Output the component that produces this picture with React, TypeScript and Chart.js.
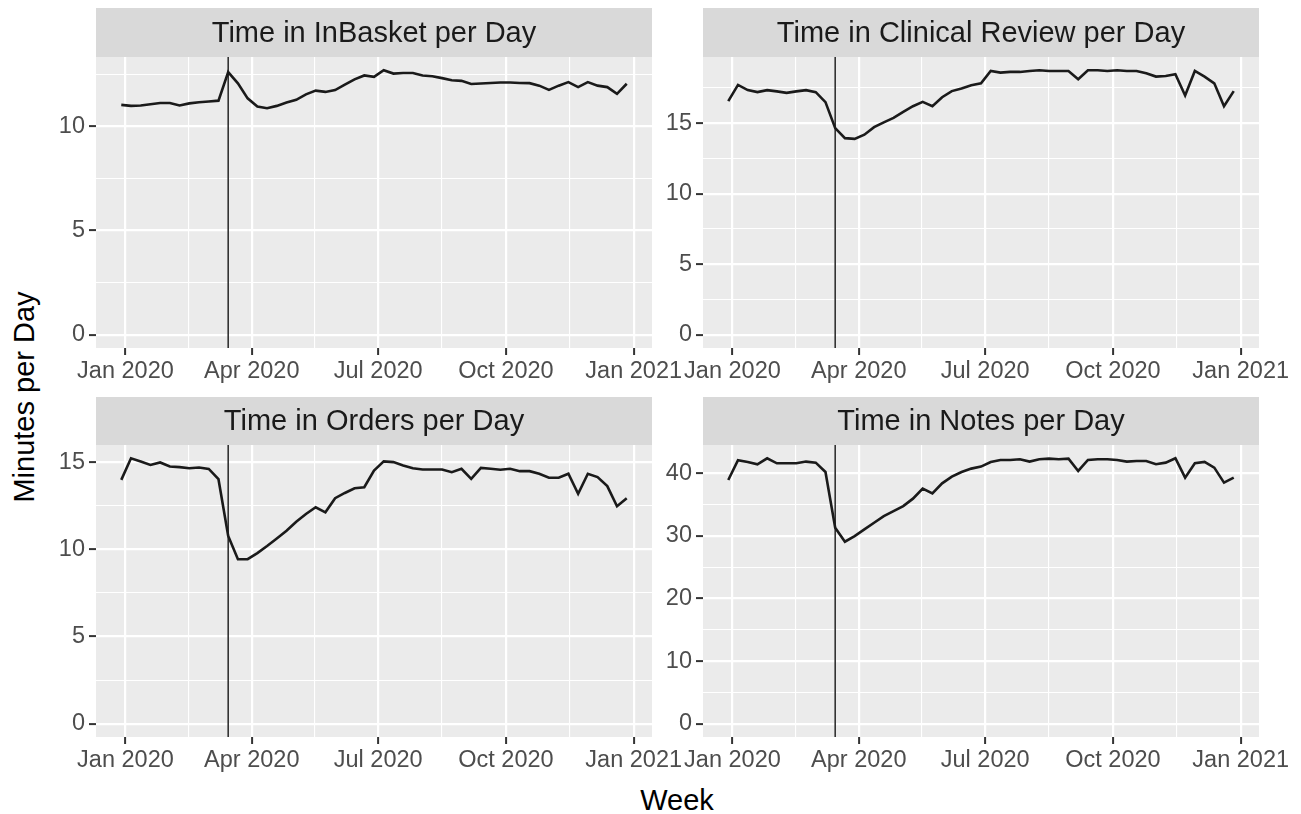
import React, { useEffect, useRef } from 'react';
import { Chart, registerables } from 'chart.js';

Chart.register(...registerables);

// ---------- data ----------
const weekDates: string[] = [
  '2019-12-29', '2020-01-05', '2020-01-12', '2020-01-19', '2020-01-26', '2020-02-02', '2020-02-09',
  '2020-02-16', '2020-02-23', '2020-03-01', '2020-03-08', '2020-03-15', '2020-03-22', '2020-03-29',
  '2020-04-05', '2020-04-12', '2020-04-19', '2020-04-26', '2020-05-03', '2020-05-10', '2020-05-17',
  '2020-05-24', '2020-05-31', '2020-06-07', '2020-06-14', '2020-06-21', '2020-06-28', '2020-07-05',
  '2020-07-12', '2020-07-19', '2020-07-26', '2020-08-02', '2020-08-09', '2020-08-16', '2020-08-23',
  '2020-08-30', '2020-09-06', '2020-09-13', '2020-09-20', '2020-09-27', '2020-10-04', '2020-10-11',
  '2020-10-18', '2020-10-25', '2020-11-01', '2020-11-08', '2020-11-15', '2020-11-22', '2020-11-29',
  '2020-12-06', '2020-12-13', '2020-12-20', '2020-12-27',
];

const inBasket: number[] = [
  11.03, 10.98, 11.0, 11.06, 11.12, 11.12, 11.0, 11.1, 11.15, 11.19, 11.23, 12.6, 12.06, 11.34,
  10.95, 10.87, 10.98, 11.14, 11.27, 11.53, 11.71, 11.65, 11.74, 12.0, 12.25, 12.44, 12.37, 12.69,
  12.53, 12.56, 12.56, 12.44, 12.4, 12.31, 12.21, 12.18, 12.03, 12.05, 12.08, 12.1, 12.1, 12.08,
  12.07, 11.95, 11.75, 11.95, 12.12, 11.88, 12.12, 11.95, 11.88, 11.56, 12.04,
];

const clinicalReview: number[] = [
  16.55, 17.7, 17.33, 17.19, 17.33, 17.24, 17.14, 17.24, 17.33, 17.19, 16.48, 14.64, 13.93, 13.88,
  14.17, 14.71, 15.05, 15.36, 15.79, 16.19, 16.5, 16.19, 16.83, 17.26, 17.45, 17.67, 17.81, 18.69,
  18.57, 18.62, 18.62, 18.69, 18.74, 18.69, 18.69, 18.69, 18.1, 18.74, 18.74, 18.69, 18.74, 18.69,
  18.69, 18.52, 18.29, 18.33, 18.45, 16.95, 18.69, 18.29, 17.81, 16.19, 17.26,
];

const orders: number[] = [
  13.99, 15.23, 15.04, 14.85, 14.99, 14.76, 14.72, 14.66, 14.7, 14.62, 14.03, 10.77, 9.44, 9.44,
  9.79, 10.2, 10.63, 11.07, 11.59, 12.03, 12.42, 12.13, 12.94, 13.24, 13.51, 13.57, 14.53, 15.05,
  15.01, 14.82, 14.66, 14.59, 14.59, 14.59, 14.43, 14.63, 14.05, 14.68, 14.63, 14.57, 14.63, 14.49,
  14.49, 14.34, 14.11, 14.11, 14.34, 13.19, 14.34, 14.15, 13.63, 12.48, 12.94,
];

const notes: number[] = [
  38.93, 42.08, 41.81, 41.44, 42.4, 41.6, 41.6, 41.6, 41.87, 41.7, 40.21, 31.3, 29.07, 29.97,
  31.04, 32.11, 33.17, 33.97, 34.77, 35.95, 37.55, 36.8, 38.4, 39.47, 40.21, 40.75, 41.07, 41.81,
  42.13, 42.13, 42.24, 41.87, 42.24, 42.35, 42.24, 42.35, 40.37, 42.13, 42.24, 42.24, 42.13, 41.87,
  41.97, 41.97, 41.44, 41.7, 42.4, 39.31, 41.6, 41.81, 40.9, 38.51, 39.31,
];

const panelTitles: string[] = [
  'Time in InBasket per Day',
  'Time in Clinical Review per Day',
  'Time in Orders per Day',
  'Time in Notes per Day',
];

const xTickDates: string[] = ['2020-01-01', '2020-04-01', '2020-07-01', '2020-10-01', '2021-01-01'];
const xTickLabels: string[] = ['Jan 2020', 'Apr 2020', 'Jul 2020', 'Oct 2020', 'Jan 2021'];
const yTickSteps: number[] = [5, 5, 5, 10];
const interventionDate = '2020-03-15';

const yAxisTitle = 'Minutes per Day';
const xAxisTitle = 'Week';

// ---------- helpers ----------
const FONT = "'Liberation Sans', Arial, Helvetica, sans-serif";
const DAY_MS = 86400000;
const EPOCH = Date.UTC(2020, 0, 1);
const toDay = (s: string): number => {
  const [y, m, d] = s.split('-').map(Number);
  return (Date.UTC(y, m - 1, d) - EPOCH) / DAY_MS;
};

const AXIS_W = 40;
const RIGHT_PAD = 40;
const XAXIS_H = 40;
const PLOT_W = 556;

const layouts = [
  { left: 96, top: 8, stripH: 49, plotH: 291 },
  { left: 703, top: 8, stripH: 49, plotH: 291 },
  { left: 96, top: 397, stripH: 48, plotH: 292 },
  { left: 703, top: 397, stripH: 48, plotH: 292 },
];

const seriesList = [inBasket, clinicalReview, orders, notes];

const decoPlugin = {
  id: 'panelDeco',
  beforeDraw(chart: any, _args: any, opts: any) {
    const { ctx, chartArea: a } = chart;
    ctx.save();
    ctx.fillStyle = '#EBEBEB';
    ctx.fillRect(a.left, a.top, a.right - a.left, a.bottom - a.top);
    ctx.fillStyle = '#D9D9D9';
    ctx.fillRect(a.left, a.top - opts.stripH, a.right - a.left, opts.stripH);
    ctx.fillStyle = '#1A1A1A';
    ctx.font = `29px ${FONT}`;
    ctx.textAlign = 'center';
    ctx.textBaseline = 'middle';
    ctx.fillText(opts.title, (a.left + a.right) / 2, a.top - opts.stripH / 2 + 1);
    ctx.restore();
  },
};

function Panel({ idx }: { idx: number }) {
  const ref = useRef<HTMLCanvasElement | null>(null);
  const lay = layouts[idx];
  const values = seriesList[idx];
  const step = yTickSteps[idx];
  const title = panelTitles[idx];
  const width = AXIS_W + PLOT_W + RIGHT_PAD;
  const height = lay.stripH + lay.plotH + XAXIS_H;

  useEffect(() => {
    if (!ref.current) return;
    const xs = weekDates.map(toDay);
    const x0 = Math.min(...xs);
    const x1 = Math.max(...xs);
    const xr = x1 - x0;
    const xMin = x0 - 0.05 * xr;
    const xMax = x1 + 0.05 * xr;

    const yLo = Math.min(0, ...values);
    const yHi = Math.max(...values);
    const yr = yHi - yLo;
    const yMin = yLo - 0.05 * yr;
    const yMax = yHi + 0.05 * yr;

    const majorX = xTickDates.map(toDay);
    const minorX = majorX.slice(0, -1).map((d, i) => (d + majorX[i + 1]) / 2);
    const majorY: number[] = [];
    for (let v = 0; v <= yMax; v += step) majorY.push(v);
    const minorY: number[] = [];
    for (let v = step / 2; v <= yMax; v += step) minorY.push(v);

    const isMajorX = (v: number) => majorX.some((m) => Math.abs(m - v) < 1e-6);
    const isMajorY = (v: number) => majorY.some((m) => Math.abs(m - v) < 1e-6);

    const vDay = toDay(interventionDate);

    const chart = new Chart(ref.current, {
      type: 'line',
      data: {
        datasets: [
          {
            data: xs.map((x, i) => ({ x, y: values[i] })),
            borderColor: '#1A1A1A',
            borderWidth: 2.6,
            pointRadius: 0,
            tension: 0,
            fill: false,
          },
          {
            data: [
              { x: vDay, y: yMin },
              { x: vDay, y: yMax },
            ],
            borderColor: '#333333',
            borderWidth: 1.6,
            pointRadius: 0,
            fill: false,
          },
        ],
      },
      options: {
        responsive: false,
        animation: false,
        events: [],
        layout: { padding: { top: lay.stripH, left: 0, right: RIGHT_PAD, bottom: 0 } },
        plugins: {
          legend: { display: false },
          tooltip: { enabled: false },
          title: { display: false },
          panelDeco: { title, stripH: lay.stripH },
        } as any,
        scales: {
          x: {
            type: 'linear',
            min: xMin,
            max: xMax,
            afterBuildTicks: (scale: any) => {
              scale.ticks = [...majorX, ...minorX]
                .filter((v) => v >= xMin && v <= xMax)
                .sort((a, b) => a - b)
                .map((value) => ({ value }));
            },
            afterFit: (scale: any) => {
              scale.height = XAXIS_H;
            },
            ticks: {
              autoSkip: false,
              maxRotation: 0,
              minRotation: 0,
              padding: 2,
              color: '#4D4D4D',
              font: { family: FONT, size: 23.5 },
              callback: (value: any) => {
                const k = majorX.findIndex((m) => Math.abs(m - Number(value)) < 1e-6);
                return k >= 0 ? xTickLabels[k] : '';
              },
            },
            grid: {
              color: '#FFFFFF',
              lineWidth: (c: any) => (c.tick && isMajorX(c.tick.value) ? 2.2 : 1.1),
              drawTicks: true,
              tickLength: 7,
              tickWidth: 2,
              tickColor: (c: any) => (c.tick && isMajorX(c.tick.value) ? '#333333' : 'rgba(0,0,0,0)'),
            },
            border: { display: false },
          },
          y: {
            type: 'linear',
            min: yMin,
            max: yMax,
            afterBuildTicks: (scale: any) => {
              scale.ticks = [...majorY, ...minorY]
                .filter((v) => v >= yMin && v <= yMax)
                .sort((a, b) => a - b)
                .map((value) => ({ value }));
            },
            afterFit: (scale: any) => {
              scale.width = AXIS_W;
            },
            ticks: {
              autoSkip: false,
              padding: 4,
              color: '#4D4D4D',
              font: { family: FONT, size: 23.5 },
              callback: (value: any) => (isMajorY(Number(value)) ? String(Math.round(Number(value))) : ''),
            },
            grid: {
              color: '#FFFFFF',
              lineWidth: (c: any) => (c.tick && isMajorY(c.tick.value) ? 2.2 : 1.1),
              drawTicks: true,
              tickLength: 7,
              tickWidth: 2,
              tickColor: (c: any) => (c.tick && isMajorY(c.tick.value) ? '#333333' : 'rgba(0,0,0,0)'),
            },
            border: { display: false },
          },
        },
      } as any,
      plugins: [decoPlugin as any],
    });
    return () => chart.destroy();
  }, [idx]);

  return (
    <canvas
      ref={ref}
      width={width}
      height={height}
      style={{
        position: 'absolute',
        left: lay.left - AXIS_W,
        top: lay.top,
        width,
        height,
      }}
    />
  );
}

export default function App() {
  return (
    <div
      style={{
        position: 'fixed',
        left: 0,
        top: 0,
        width: 1301,
        height: 814,
        background: '#FFFFFF',
        overflow: 'hidden',
        fontFamily: FONT,
      }}
    >
      {[0, 1, 2, 3].map((i) => (
        <Panel key={i} idx={i} />
      ))}
      <div
        style={{
          position: 'absolute',
          left: 24,
          top: 397,
          transform: 'translate(-50%, -50%) rotate(-90deg)',
          whiteSpace: 'nowrap',
          fontSize: 29,
          color: '#000000',
        }}
      >
        {yAxisTitle}
      </div>
      <div
        style={{
          position: 'absolute',
          left: 677,
          top: 800,
          transform: 'translate(-50%, -50%)',
          whiteSpace: 'nowrap',
          fontSize: 29,
          color: '#000000',
        }}
      >
        {xAxisTitle}
      </div>
    </div>
  );
}
